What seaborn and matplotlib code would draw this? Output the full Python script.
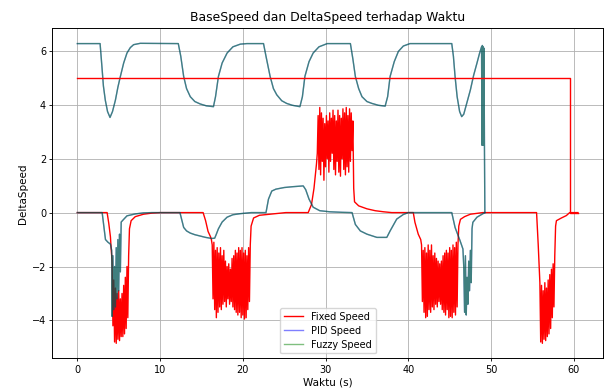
import numpy as np
import pandas as pd
import matplotlib
matplotlib.use("Agg")
import matplotlib.pyplot as plt
import seaborn as sns

# ---------------- data ----------------
# Fixed speed: base speed
fixed_base_t = [0.0, 59.5, 59.5, 60.5]
fixed_base_v = [5.0, 5.0, 0.0, 0.0]

# Fixed speed: delta speed, smooth pieces (time, value)
fixed_s1_t = [0.0, 3.6, 3.8, 4.0, 4.1]
fixed_s1_v = [0.0, 0.0, -0.4, -0.9, -1.4]
fixed_o1_start = 4.2
fixed_o1_v = [-1.8, -4.2, -2.5, -4.8, -2.8, -4.85, -3.0, -4.7, -2.9, -4.75, -3.2,
              -4.6, -3.0, -4.6, -2.7, -4.5, -2.4, -4.3, -2.0, -3.9, -1.6]
fixed_s2_t = [6.3, 6.5, 7.0, 8.0, 9.0, 10.0, 15.2, 15.5, 15.8, 16.1, 16.2]
fixed_s2_v = [-0.6, -0.3, -0.15, -0.06, -0.02, 0.0, 0.0, -0.3, -0.7, -0.9, -1.0]
fixed_o2_start = 16.3
fixed_o2_v = [-1.2, -3.2, -1.1, -3.6, -1.4, -3.9, -1.3, -3.7, -1.5, -3.5, -1.3,
              -3.6, -1.6, -3.4, -1.4, -3.3, -1.8, -3.5, -2.0, -3.2, -1.9, -3.4,
              -2.1, -3.3, -1.7, -3.5, -1.6, -3.6, -1.4, -3.7, -1.5, -3.8, -1.3,
              -3.7, -1.4, -3.9, -1.3, -3.8, -1.5, -3.95, -1.4, -3.9, -1.6, -3.6,
              -1.3, -3.3, -1.2]
fixed_s3_t = [21.0, 21.3, 22.0, 23.6, 25.2, 27.9, 28.3, 28.6, 28.9]
fixed_s3_v = [-0.5, -0.2, -0.1, -0.05, 0.0, 0.0, 0.3, 0.9, 1.8]
fixed_o3_start = 29.0
fixed_o3_v = [2.2, 3.6, 1.6, 3.9, 1.4, 3.7, 1.9, 3.5, 1.2, 3.3, 1.7, 3.6, 2.0,
              3.4, 1.5, 3.7, 1.9, 3.5, 2.2, 3.8, 1.6, 3.6, 1.4, 3.4, 1.9, 3.8,
              1.5, 3.6, 1.35, 3.5, 2.0, 3.85, 1.6, 3.7, 1.4, 3.9, 1.7, 3.6, 1.5,
              3.85, 1.9, 3.7, 2.3, 3.4]
fixed_s4_t = [33.4, 33.5, 34.0, 35.0, 36.0, 37.0, 38.0, 40.6, 40.8, 41.2, 41.5]
fixed_s4_v = [0.9, 0.4, 0.25, 0.14, 0.07, 0.03, 0.0, 0.0, -0.36, -0.8, -1.0]
fixed_o4_start = 41.6
fixed_o4_v = [-1.2, -3.3, -1.4, -3.7, -1.3, -3.9, -1.5, -3.85, -1.2, -3.6, -1.4,
              -3.7, -1.2, -3.5, -1.6, -3.6, -1.5, -3.4, -1.7, -3.5, -1.8, -3.3,
              -1.9, -3.4, -1.8, -3.6, -1.6, -3.7, -1.5, -3.8, -1.4, -3.6, -1.5,
              -3.9, -1.3, -3.85, -1.4, -3.9, -1.2, -3.7, -1.3, -3.8, -1.1, -3.5,
              -1.2]
fixed_s5_t = [46.1, 46.3, 46.8, 47.5, 48.5, 49.0, 55.5, 55.7, 55.85]
fixed_s5_v = [-0.5, -0.25, -0.15, -0.06, -0.02, 0.0, 0.0, -1.2, -2.2]
fixed_o5_start = 55.9
fixed_o5_v = [-2.6, -4.8, -2.7, -4.85, -2.9, -4.7, -2.6, -4.75, -2.8, -4.6, -2.5,
              -4.5, -2.3, -4.3, -2.1, -3.9, -1.9, -3.5, -1.6]
fixed_s6_t = [57.8, 57.9, 58.5, 59.1, 59.5, 60.5]
fixed_s6_v = [-0.5, -0.3, -0.2, -0.11, 0.0, 0.0]

# PID / Fuzzy (identical traces): base speed
ctrl_base_t = [0.0, 2.75, 2.97, 3.15, 3.38, 3.65, 3.95, 4.25, 4.6, 4.9, 5.2, 5.6,
               6.0, 6.4, 6.8, 7.6, 12.2, 12.5, 12.85, 13.2, 13.65, 14.2, 14.85,
               15.6, 16.45, 16.7, 17.05, 17.5, 18.1, 18.8, 19.7, 20.5, 22.5, 22.8,
               23.3, 23.7, 24.1, 24.7, 25.3, 26.0, 26.9, 27.2, 27.5, 28.0, 28.5,
               29.2, 30.2, 33.0, 33.3, 33.6, 34.0, 34.4, 35.0, 35.6, 36.4, 37.2,
               37.5, 37.8, 38.3, 38.8, 39.4, 40.2, 45.25, 45.45, 45.65, 45.9, 46.2,
               46.45, 46.7, 47.1, 47.5, 47.9, 48.3, 48.6, 48.85, 48.9, 48.95, 49.0,
               49.05, 49.1, 49.15, 49.2, 49.25]
ctrl_base_v = [6.27, 6.27, 5.42, 4.7, 4.17, 3.75, 3.53, 3.75, 4.17, 4.65, 5.05, 5.55,
               5.92, 6.12, 6.23, 6.28, 6.27, 5.8, 5.05, 4.6, 4.3, 4.12, 4.03,
               3.96, 3.93, 4.3, 5.05, 5.55, 5.92, 6.15, 6.25, 6.27, 6.27, 5.8,
               5.05, 4.6, 4.37, 4.15, 4.05, 3.98, 3.93, 4.3, 5.05, 5.6, 5.92,
               6.15, 6.27, 6.27, 5.7, 5.05, 4.6, 4.3, 4.12, 4.05, 3.98, 3.95,
               4.3, 5.05, 5.6, 5.98, 6.18, 6.27, 6.27, 5.8, 5.05, 4.3, 3.75,
               3.56, 3.65, 4.1, 4.55, 5.1, 5.55, 5.9, 6.15, 2.5, 6.2, 2.5,
               6.15, 2.5, 6.1, 2.5, 0.0]

# PID / Fuzzy: delta speed
ctrl_s1_t = [0.0, 3.0, 3.2, 3.4, 3.7, 4.0, 4.15]
ctrl_s1_v = [0.0, 0.0, -0.5, -1.0, -1.1, -1.17, -1.4]
ctrl_o1_start = 4.2
ctrl_o1_v = [-3.85, -1.6, -3.6, -2.0, -3.5, -1.3, -3.2, -1.0, -2.9, -0.8, -2.2]
ctrl_s2_t = [5.3, 5.6, 6.0, 7.0, 8.0, 9.0, 12.4, 12.85, 13.2, 13.65, 14.2, 14.85,
             15.5, 16.25, 16.6, 16.8, 17.05, 17.5, 18.1, 18.8, 19.7, 21.0, 22.8,
             23.1, 23.5, 24.0, 25.0, 26.0, 27.3, 27.6, 28.0, 28.5, 29.3, 30.5,
             32.0, 33.2, 33.6, 34.2, 35.0, 36.2, 37.4, 37.8, 38.6, 39.4, 40.0,
             45.25, 45.65, 46.25, 46.6]
ctrl_s2_v = [-0.35, -0.25, -0.12, -0.05, -0.01, 0.0, 0.0, -0.55, -0.68, -0.76, -0.82,
             -0.87, -0.92, -0.96, -0.95, -0.8, -0.6, -0.35, -0.17, -0.08, -0.04,
             0.0, 0.0, 0.5, 0.8, 0.87, 0.93, 0.96, 0.99, 0.85, 0.5, 0.2, 0.07,
             0.03, 0.01, 0.0, -0.44, -0.68, -0.8, -0.92, -0.92, -0.68, -0.24,
             -0.07, 0.0, 0.0, -0.55, -1.04, -1.35]
ctrl_o2_start = 46.7
ctrl_o2_v = [-2.0, -3.7, -1.6, -3.8, -2.4, -3.4, -1.8, -2.9, -1.4, -2.6, -0.6]
ctrl_s3_t = [47.8, 48.3, 48.8, 49.25]
ctrl_s3_v = [-0.36, -0.17, -0.08, 0.0]

SAMPLE_STEP = 0.1  # sampling interval inside the oscillating stretches


def series(pieces):
    ts, vs = [], []
    for p in pieces:
        if len(p) == 2:
            ts += list(p[0])
            vs += list(p[1])
        else:
            start, vals = p[0], p[2]
            ts += [start + SAMPLE_STEP * i for i in range(len(vals))]
            vs += list(vals)
    return pd.DataFrame({"Waktu": ts, "Speed": vs})


fixed_delta = series([(fixed_s1_t, fixed_s1_v), (fixed_o1_start, None, fixed_o1_v),
                      (fixed_s2_t, fixed_s2_v), (fixed_o2_start, None, fixed_o2_v),
                      (fixed_s3_t, fixed_s3_v), (fixed_o3_start, None, fixed_o3_v),
                      (fixed_s4_t, fixed_s4_v), (fixed_o4_start, None, fixed_o4_v),
                      (fixed_s5_t, fixed_s5_v), (fixed_o5_start, None, fixed_o5_v),
                      (fixed_s6_t, fixed_s6_v)])
ctrl_delta = series([(ctrl_s1_t, ctrl_s1_v), (ctrl_o1_start, None, ctrl_o1_v),
                     (ctrl_s2_t, ctrl_s2_v), (ctrl_o2_start, None, ctrl_o2_v),
                     (ctrl_s3_t, ctrl_s3_v)])
fixed_base = pd.DataFrame({"Waktu": fixed_base_t, "Speed": fixed_base_v})
ctrl_base = pd.DataFrame({"Waktu": ctrl_base_t, "Speed": ctrl_base_v})

# ---------------- plot ----------------
fig = plt.figure(figsize=(6.04, 3.88), dpi=100)
ax = fig.add_axes([0.0866, 0.0765, 0.9117, 0.8505])

LW = 1.0
common = dict(x="Waktu", y="Speed", sort=False, estimator=None, ax=ax, linewidth=LW)
sns.lineplot(data=fixed_delta, color="red", label="Fixed Speed", **common)
sns.lineplot(data=ctrl_delta, color="blue", alpha=0.5, label="PID Speed", **common)
sns.lineplot(data=ctrl_delta, color="green", alpha=0.5, label="Fuzzy Speed", **common)
sns.lineplot(data=ctrl_base, color="blue", alpha=0.5, legend=False, **common)
sns.lineplot(data=ctrl_base, color="green", alpha=0.5, legend=False, **common)
sns.lineplot(data=fixed_base, color="red", legend=False, **common)

ax.set_title("BaseSpeed dan DeltaSpeed terhadap Waktu", fontsize=8.9, pad=5)
ax.set_xlabel("Waktu (s)", fontsize=7.5, labelpad=2)
ax.set_ylabel("DeltaSpeed", fontsize=7.5, labelpad=3)
ax.tick_params(labelsize=7, length=2.5, width=0.6, pad=2)
for s in ax.spines.values():
    s.set_linewidth(0.7)
ax.grid(True, color="#b0b0b0", linewidth=0.6)
ax.margins(x=0.05, y=0.05)
leg = ax.legend(loc="lower center", fontsize=7, handlelength=2.0, borderpad=0.4,
                labelspacing=0.4, framealpha=0.8)
for h in leg.get_lines():
    h.set_linewidth(1.0)

fig.savefig("out.png", dpi=100)
